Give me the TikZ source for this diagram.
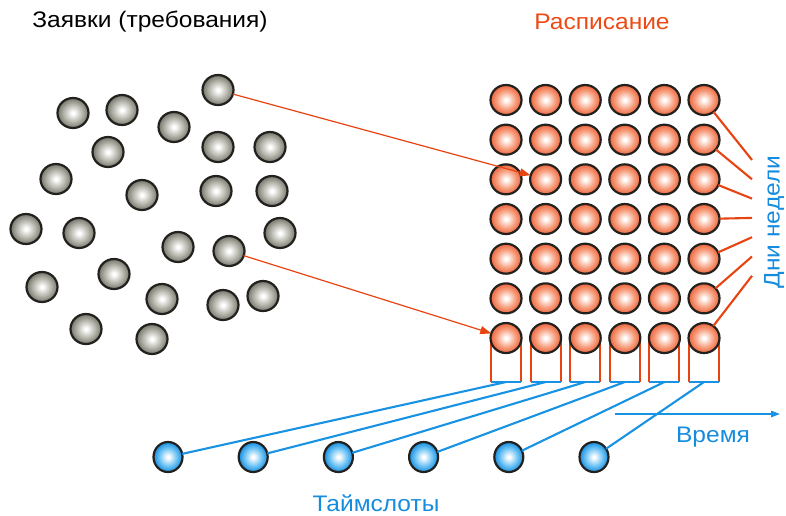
\documentclass[tikz,border=0pt]{standalone}
\usepackage{fontspec}
\setmainfont{Liberation Sans}
\usetikzlibrary{shapes.geometric,arrows.meta}
\definecolor{txtorange}{RGB}{236,74,20}
\definecolor{txtblue}{RGB}{22,140,222}
\definecolor{lineorange}{RGB}{232,68,18}
\definecolor{lineblue}{RGB}{24,146,226}
\definecolor{balledge}{RGB}{35,33,30}
\definecolor{gmid}{RGB}{180,180,170}
\definecolor{gout}{RGB}{118,118,108}
\definecolor{omid}{RGB}{247,160,128}
\definecolor{oout}{RGB}{236,100,60}
\definecolor{bmid}{RGB}{110,195,244}
\definecolor{bout}{RGB}{22,142,224}
\pgfdeclareradialshading{greyball}{\pgfpoint{0bp}{0bp}}{color(0bp)=(white); color(2bp)=(white); color(15bp)=(gmid); color(25bp)=(gout); color(50bp)=(gout)}
\pgfdeclareradialshading{orangeball}{\pgfpoint{0bp}{0bp}}{color(0bp)=(white); color(2bp)=(white); color(15bp)=(omid); color(25bp)=(oout); color(50bp)=(oout)}
\pgfdeclareradialshading{blueball}{\pgfpoint{0bp}{0bp}}{color(0bp)=(white); color(2bp)=(white); color(15bp)=(bmid); color(25bp)=(bout); color(50bp)=(bout)}
\newcommand{\widetext}[1]{\scalebox{1.09}[1]{#1}}
\tikzset{
  ball/.style={ellipse, draw=balledge, line width=2.2pt, minimum width=31pt, minimum height=30pt, inner sep=0pt, outer sep=0pt},
  gball/.style={ball, shading=greyball},
  oball/.style={ball, shading=orangeball},
  bball/.style={ball, shading=blueball, minimum width=29pt},
  oline/.style={draw=lineorange, line width=2.1pt},
  bline/.style={draw=lineblue, line width=2.1pt},
  arr/.style={draw=lineorange, line width=1.2pt, -{Triangle[length=11pt,width=8pt]}},
  tarr/.style={draw=lineblue, line width=1.3pt, -{Triangle[length=9pt,width=6.5pt]}},
  lbl/.style={font=\fontsize{22.5}{26}\selectfont, inner sep=0pt}
}
\begin{document}
\begin{tikzpicture}[x=1pt,y=-1pt]
\useasboundingbox (0,0) rectangle (786,515);
% labels
\node[lbl, text=black] (ttl1) at (150,22) {\widetext{Заявки (требования)}};
\node[lbl, text=txtorange] (ttl2) at (602,22) {\widetext{Расписание}};
\node[lbl, text=txtblue, rotate=90] (days) at (774,222) {\widetext{Дни недели}};
\node[lbl, text=txtblue] (time) at (713,437) {\widetext{Время}};
\node[lbl, text=txtblue] (slots) at (376,503) {\widetext{Таймслоты}};
% grey request balls
\foreach \n/\x/\y in {1/218/90, 2/73/113, 3/122/110, 4/174/127, 5/108/152, 6/218/147, 7/270/147, 8/56/179, 9/142/195, 10/216/191, 11/272/191, 12/26/229, 13/79/233, 14/280/233, 15/178/247, 16/229/251, 17/114/274, 18/42/287, 19/162/299, 20/223/305, 21/263/296, 22/86/329, 23/152/339}
  {\node[gball] (g\n) at (\x,\y) {};}
% brackets under bottom row
\foreach \j in {1,...,6}{
  \pgfmathsetmacro{\cx}{506+39.6*(\j-1)}
  \draw[oline] (\cx-15,338) -- (\cx-15,382) (\cx+15,338) -- (\cx+15,382);
  \draw[bline] (\cx-15,382) -- (\cx+15,382);
  \coordinate (t\j) at (\cx,382);
}
% schedule grid
\foreach \i in {1,...,7}{
  \foreach \j in {1,...,6}{
    \node[oball] (o\i\j) at ({506+39.6*(\j-1)},{100+39.67*(\i-1)}) {};
  }
}
% day lines
\foreach \i in {1,...,7}{
  \coordinate (d\i) at (752,{160+19.3*(\i-1)});
  \draw[oline] (o\i6) -- (d\i);
}
% timeslot balls
\foreach \j in {1,...,6}{
  \node[bball] (b\j) at ({168+85.2*(\j-1)},457) {};
  \draw[bline] (b\j) -- (t\j);
}
% arrows
\draw[arr] (g1) -- (o32);
\draw[arr] (g16) -- (o71);
% time axis
\coordinate (ta) at (615,414);
\coordinate (tb) at (780,414);
\draw[tarr] (ta) -- (tb);
\end{tikzpicture}
\end{document}
